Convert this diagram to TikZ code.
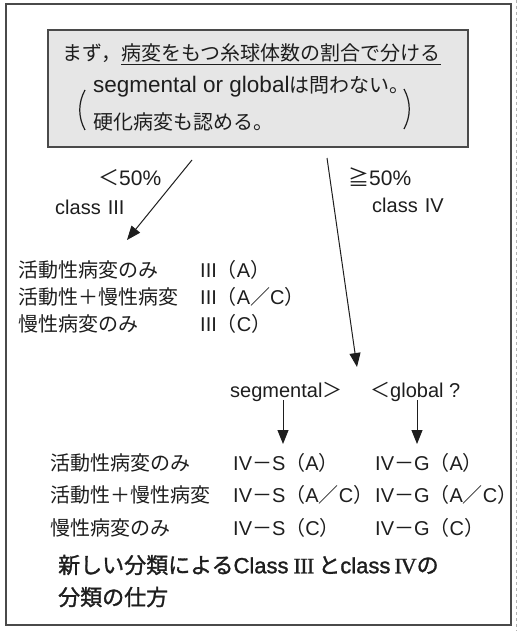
\documentclass[tikz,border=0pt]{standalone}
\usepackage{fontspec}
\setmainfont{Liberation Sans}
\newfontfamily\jp{Noto Sans CJK JP}
\newfontfamily\jpb[FakeBold=1.3]{Noto Sans CJK JP}
\newfontfamily\lsb[FakeBold=1.3]{Liberation Sans}
\newfontfamily\rom[FakeBold=1.0]{Liberation Serif}
\usetikzlibrary{arrows.meta}
\definecolor{ink}{HTML}{1E1E1E}
\definecolor{framec}{HTML}{4A4A4A}
\definecolor{boxfill}{HTML}{E6E6E6}
\newcommand{\J}[1]{{\jp #1}}
\newcommand{\JB}[1]{{\jpb #1}}
\newcommand{\RN}[1]{{\rom #1}}
\tikzset{
  txt/.style={anchor=west, inner sep=0pt, text=ink, font=\fontsize{20}{24}\selectfont},
  lab/.style={anchor=west, inner sep=0pt, text=ink, font=\fontsize{21}{25}\selectfont},
  captxt/.style={anchor=west, inner sep=0pt, text=ink, font=\fontsize{22}{26}\selectfont\lsb},
  arr/.style={-{Triangle[length=14pt,width=11pt]}, line width=1pt, draw=ink},
  paren/.style={draw=ink, line width=1.2pt},
}
\begin{document}
\begin{tikzpicture}[x=1pt,y=-1pt]
\useasboundingbox (0,0) rectangle (518,631);
\fill[white] (0,0) rectangle (518,631);
\draw[framec, line width=1.4pt] (6,4) rectangle (511,625);
\draw[gray!60, dashed, line width=0.8pt] (516,0) -- (516,631);

% top box
\node[draw=framec, fill=boxfill, line width=1.4pt, minimum width=420pt, minimum height=117pt, inner sep=0pt] (box) at (258,88.5) {};
\node[txt] (t1a) at (62,53) {\J{まず，}};
\node[txt] (t1b) at (t1a.east) {\J{病変をもつ糸球体数の割合で分ける}};
\draw[ink, line width=1pt] ([yshift=-2pt]t1b.south west) -- ([yshift=-2pt]t1b.south east);
\node[txt] (t2) at (93,87) {{\fontsize{22.5}{27}\selectfont segmental or global}\J{は問わない。}};
\node[txt] (t3) at (93,122) {\J{硬化病変も認める。}};
\draw[paren] (85,90) .. controls (78,103) and (78,117) .. (85,130);
\draw[paren] (404,89) .. controls (411,102) and (411,116) .. (404,129);

% class III branch
\coordinate (la0) at (192,160);
\coordinate (la1) at (127,240);
\draw[arr] (la0) -- (la1);
\node[lab] (lt50) at (98,178) {\J{＜}50\%};
\node[txt] (c3) at (55,207) {class\hspace{7pt}III};

\node[txt] (a1) at (18,270) {\J{活動性病変のみ}};
\node[txt] (a2) at (18,297) {\J{活動性＋慢性病変}};
\node[txt] (a3) at (18,324) {\J{慢性病変のみ}};
\node[txt] (b1) at (200,270) {III\J{（}A\J{）}};
\node[txt] (b2) at (200,297) {III\J{（}A\J{／}C\J{）}};
\node[txt] (b3) at (200,324) {III\J{（}C\J{）}};

% class IV branch
\coordinate (ra0) at (327,158);
\coordinate (ra1) at (357,367);
\draw[arr] (ra0) -- (ra1);
\node[lab] (ge50) at (348,177) {\J{≧}50\%};
\node[txt] (c4) at (372,205) {class\hspace{7pt}IV};

\node[txt] (seg) at (230,392) {segmental\J{＞}};
\node[txt] (glo) at (370,392) {\J{＜}global ?};
\coordinate (sa0) at (283,400);
\coordinate (sa1) at (283,444);
\coordinate (ga0) at (417,400);
\coordinate (ga1) at (417,444);
\draw[arr] (sa0) -- (sa1);
\draw[arr] (ga0) -- (ga1);

\node[txt] (d1) at (50,463) {\J{活動性病変のみ}};
\node[txt] (d2) at (50,495) {\J{活動性＋慢性病変}};
\node[txt] (d3) at (50,528) {\J{慢性病変のみ}};
\node[txt] (s1) at (233,463) {IV\J{－}S\J{（}A\J{）}};
\node[txt] (s2) at (233,495) {IV\J{－}S\J{（}A\J{／}C\J{）}};
\node[txt] (s3) at (233,528) {IV\J{－}S\J{（}C\J{）}};
\node[txt] (g1) at (375,463) {IV\J{－}G\J{（}A\J{）}};
\node[txt] (g2) at (375,495) {IV\J{－}G\J{（}A\J{／}C\J{）}};
\node[txt] (g3) at (375,528) {IV\J{－}G\J{（}C\J{）}};

% caption
\node[captxt] (cap1) at (58,565) {\JB{新しい分類による}Class\hspace{5pt}\RN{I\kern-0.6pt I\kern-0.6pt I}\hspace{4pt}\JB{と}class\hspace{4pt}\RN{I\kern-1pt V}\JB{の}};
\node[captxt] (cap2) at (58,597) {\JB{分類の仕方}};
\end{tikzpicture}
\end{document}
